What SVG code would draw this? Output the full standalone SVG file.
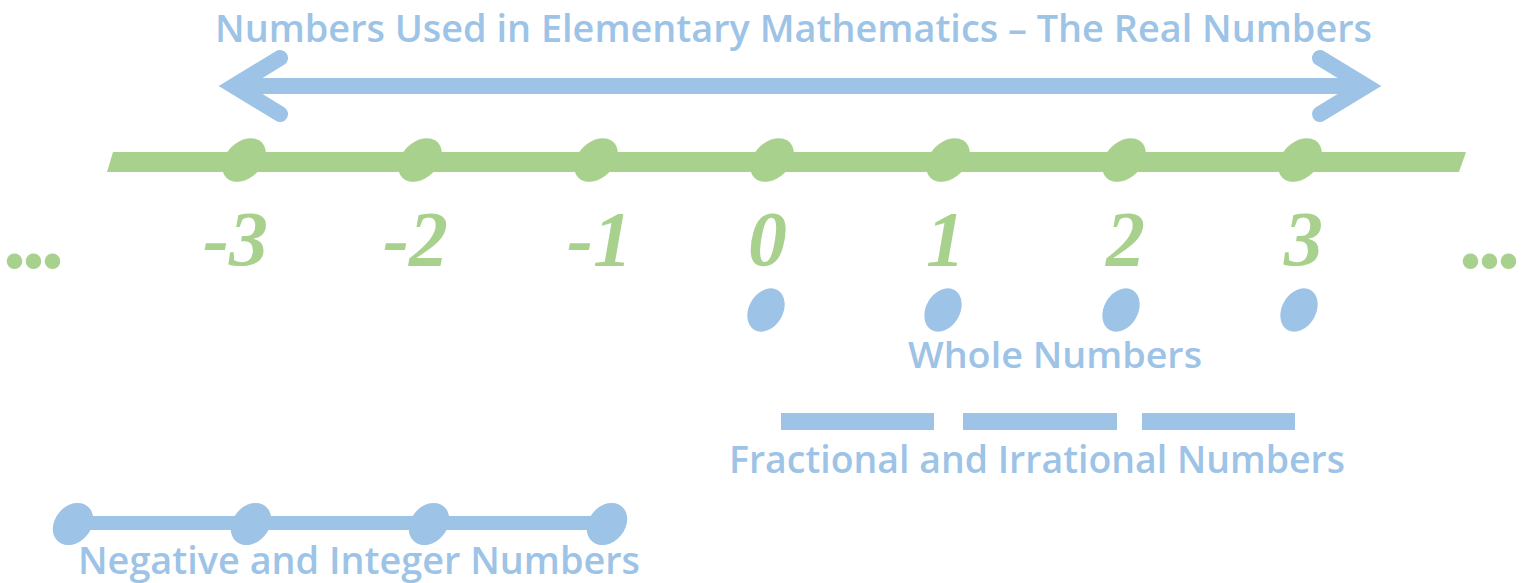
<svg xmlns="http://www.w3.org/2000/svg" width="1526" height="583" viewBox="0 0 1526 583">
<style>
.blue{fill:#9dc3e6}
.green{fill:#a9d18e}
.lbl{font-family:"Open Sans","Liberation Sans",sans-serif;font-weight:600;fill:#9dc3e6}
.num{font-family:"Liberation Serif",serif;font-style:italic;font-weight:bold;fill:#a9d18e;font-size:78px}
.dots{font-family:"Liberation Serif",serif;font-style:italic;font-weight:bold;fill:#a9d18e;font-size:96px;letter-spacing:-5px}
</style>
<rect width="1526" height="583" fill="#ffffff"/>
<g id="title"><text class="lbl" x="215" y="42" font-size="38" font-weight="700" textLength="1157" lengthAdjust="spacingAndGlyphs">Numbers Used in Elementary Mathematics – The Real Numbers</text></g>
<g id="connectors">
<line x1="236" y1="86" x2="1364" y2="86" stroke="#9dc3e6" stroke-width="16"/>
<path d="M280,58 L234,86 L280,114" fill="none" stroke="#9dc3e6" stroke-width="16" stroke-linecap="round" stroke-linejoin="miter"/>
<path d="M1320,58 L1366,86 L1320,114" fill="none" stroke="#9dc3e6" stroke-width="16" stroke-linecap="round" stroke-linejoin="miter"/>
<polygon class="green" points="113,152 1466,152 1459,172 107,172"/>
<rect class="blue" x="80" y="516" width="530" height="14"/>
<rect class="blue" x="781" y="413" width="153" height="17"/>
<rect class="blue" x="963" y="413" width="154" height="17"/>
<rect class="blue" x="1142" y="413" width="153" height="17"/>
</g>
<g id="tick-m3"><ellipse class="green" cx="0" cy="0" rx="25" ry="18" transform="translate(244,160) rotate(-45)"/><text class="num" x="203" y="265">-3</text></g>
<g id="tick-m2"><ellipse class="green" cx="0" cy="0" rx="25" ry="18" transform="translate(420,160) rotate(-45)"/><text class="num" x="383" y="265">-2</text></g>
<g id="tick-m1"><ellipse class="green" cx="0" cy="0" rx="25" ry="18" transform="translate(596,160) rotate(-45)"/><text class="num" x="567" y="265">-1</text></g>
<g id="tick-0"><ellipse class="green" cx="0" cy="0" rx="25" ry="18" transform="translate(772,160) rotate(-45)"/><text class="num" x="748" y="265">0</text></g>
<g id="tick-1"><ellipse class="green" cx="0" cy="0" rx="25" ry="18" transform="translate(948,160) rotate(-45)"/><text class="num" x="926" y="265">1</text></g>
<g id="tick-2"><ellipse class="green" cx="0" cy="0" rx="25" ry="18" transform="translate(1124,160) rotate(-45)"/><text class="num" x="1106" y="265">2</text></g>
<g id="tick-3"><ellipse class="green" cx="0" cy="0" rx="25" ry="18" transform="translate(1300,160) rotate(-45)"/><text class="num" x="1284" y="265">3</text></g>
<g id="ellipsis-left"><text class="dots" x="6" y="268">...</text></g>
<g id="ellipsis-right"><text class="dots" x="1462" y="268">...</text></g>
<g id="whole">
<ellipse class="blue" cx="0" cy="0" rx="17" ry="23" transform="translate(766,310) rotate(30)"/>
<ellipse class="blue" cx="0" cy="0" rx="17" ry="23" transform="translate(943,310) rotate(30)"/>
<ellipse class="blue" cx="0" cy="0" rx="17" ry="23" transform="translate(1121,310) rotate(30)"/>
<ellipse class="blue" cx="0" cy="0" rx="17" ry="23" transform="translate(1299,310) rotate(30)"/>
<text class="lbl" x="908" y="368" font-size="36" textLength="294" lengthAdjust="spacingAndGlyphs">Whole Numbers</text>
</g>
<g id="fractional"><text class="lbl" x="729" y="473" font-size="37" textLength="616" lengthAdjust="spacingAndGlyphs">Fractional and Irrational Numbers</text></g>
<g id="negative">
<ellipse class="blue" cx="0" cy="0" rx="18" ry="23" transform="translate(73,524) rotate(40)"/>
<ellipse class="blue" cx="0" cy="0" rx="18" ry="23" transform="translate(251,524) rotate(40)"/>
<ellipse class="blue" cx="0" cy="0" rx="18" ry="23" transform="translate(429,524) rotate(40)"/>
<ellipse class="blue" cx="0" cy="0" rx="18" ry="23" transform="translate(607,524) rotate(40)"/>
<text class="lbl" x="78" y="574" font-size="37" textLength="562" lengthAdjust="spacingAndGlyphs">Negative and Integer Numbers</text>
</g>
</svg>
